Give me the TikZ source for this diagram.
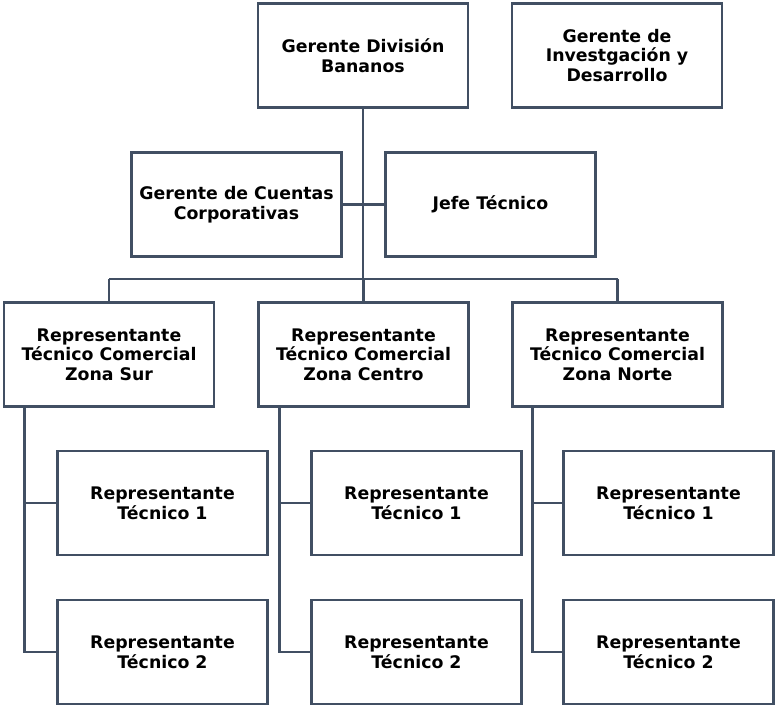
\documentclass[tikz,border=0pt]{standalone}
\usepackage{fontspec}
\setmainfont{DejaVu Sans}
\begin{document}
\begin{tikzpicture}[x=0.75pt,y=-0.75pt,
  orgbox/.style={draw=linec, line width=2.1pt, fill=white, inner sep=0pt,
    minimum width=157.5pt, minimum height=78pt, align=center,
    font=\fontsize{13pt}{14.7pt}\selectfont\bfseries},
  conn/.style={draw=linec, line width=2.1pt}]
\definecolor{linec}{HTML}{414F63}
\useasboundingbox[fill=white] (0,0) rectangle (775,707);

% management level
\node[orgbox] (ger) at (363,55.5) {Gerente División\\Bananos};
\node[orgbox] (iyd) at (617,55.5) {Gerente de\\Investgación y\\Desarrollo};
\node[orgbox] (gcc) at (236.5,204.5) {Gerente de Cuentas\\Corporativas};
\node[orgbox] (jefe) at (490.5,204.5) {Jefe Técnico};

% regional representatives
\node[orgbox] (z1) at (109,354.5) {Representante\\Técnico Comercial\\Zona Sur};
\node[orgbox] (z2) at (363.5,354.5) {Representante\\Técnico Comercial\\Zona Centro};
\node[orgbox] (z3) at (617.5,354.5) {Representante\\Técnico Comercial\\Zona Norte};

% field technicians
\node[orgbox] (s11) at (162.5,503) {Representante\\Técnico 1};
\node[orgbox] (s12) at (162.5,652) {Representante\\Técnico 2};
\node[orgbox] (s21) at (416.5,503) {Representante\\Técnico 1};
\node[orgbox] (s22) at (416.5,652) {Representante\\Técnico 2};
\node[orgbox] (s31) at (668.5,503) {Representante\\Técnico 1};
\node[orgbox] (s32) at (668.5,652) {Representante\\Técnico 2};

% bus and trunk points
\coordinate (busM) at (363,279);
\coordinate (busL) at (109,279);
\coordinate (busR) at (617.5,279);
\coordinate (t1) at ([xshift=16.5pt]z1.south west);
\coordinate (t2) at ([xshift=16.5pt]z2.south west);
\coordinate (t3) at ([xshift=16pt]z3.south west);

% connectors
\draw[conn] (ger.south) -- (busM);
\draw[conn] (gcc.east) -- (jefe.west);
\draw[conn] (busL) -- (busR);
\draw[conn] (busL) -- (z1.north);
\draw[conn] (z2.north |- busM) -- (z2.north);
\draw[conn] (busR) -- (z3.north);
\draw[conn] (t1) |- (s11.west);
\draw[conn] (t1) |- (s12.west);
\draw[conn] (t2) |- (s21.west);
\draw[conn] (t2) |- (s22.west);
\draw[conn] (t3) |- (s31.west);
\draw[conn] (t3) |- (s32.west);
\end{tikzpicture}
\end{document}
